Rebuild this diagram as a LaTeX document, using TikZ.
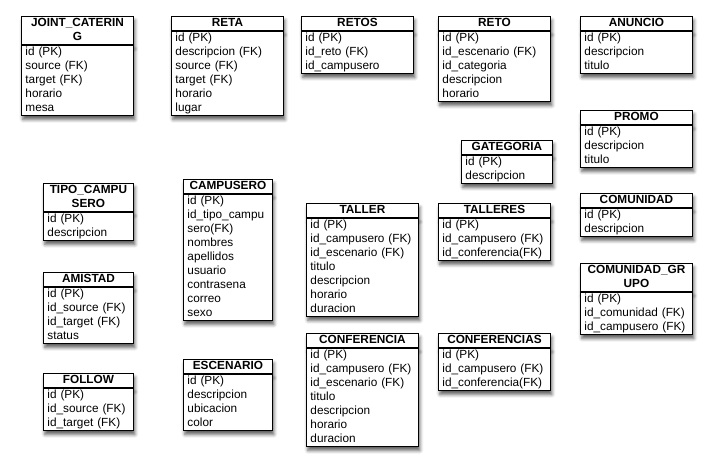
\documentclass[tikz,border=0pt]{standalone}
\usepackage{fontspec}
\setmainfont{Liberation Sans}
\usepackage{tikz}
\usetikzlibrary{positioning,shadows.blur}

\begin{document}
\begin{tikzpicture}[x=1pt,y=-1pt,
  tabla/.style={draw,line width=.9pt,fill=white,inner xsep=4pt,inner ysep=0pt,
    execute at begin node=\strut,execute at end node=\strut,
    blur shadow={shadow xshift=1.5pt,shadow yshift=-4pt,shadow blur radius=3.5pt,shadow opacity=65}},
  titulo/.style={tabla,anchor=north west,align=center,text width=#1,
    font=\fontsize{11.8}{14}\selectfont\bfseries},
  titulo/.default=104pt,
  campos/.style={tabla,align=left,text width=#1,
    font=\fontsize{11.8}{14}\selectfont},
  campos/.default=104pt]
\useasboundingbox (0,0) rectangle (713,470);
%primera fila
\node[titulo] (jc) at (21,16) {JOINT\_CATERIN\\G};
\node[campos,below=0pt of jc] (jcCampos) {id (PK)\\source (FK)\\target (FK)\\horario\\mesa};
\node[titulo] (reta) at (171,16) {RETA};
\node[campos,below=0pt of reta] (retaCampos) {id (PK)\\descripcion (FK)\\source (FK)\\target (FK)\\horario\\lugar};
\node[titulo] (retos) at (301,16) {RETOS};
\node[campos,below=0pt of retos] (retosCampos) {id (PK)\\id\_reto (FK)\\id\_campusero};
\node[titulo] (reto) at (438,16) {RETO};
\node[campos,below=0pt of reto] (retoCampos) {id (PK)\\id\_escenario (FK)\\id\_categoria\\descripcion\\horario};
\node[titulo] (anuncio) at (580,16) {ANUNCIO};
\node[campos,below=0pt of anuncio] (anuncioCampos) {id (PK)\\descripcion\\titulo};
%columna derecha
\node[titulo] (promo) at (580,110) {PROMO};
\node[campos,below=0pt of promo] (promoCampos) {id (PK)\\descripcion\\titulo};
\node[titulo=83pt] (gategoria) at (461,140) {GATEGORIA};
\node[campos=83pt,below=0pt of gategoria] (gategoriaCampos) {id (PK)\\descripcion};
\node[titulo] (comunidad) at (580,193) {COMUNIDAD};
\node[campos,below=0pt of comunidad] (comunidadCampos) {id (PK)\\descripcion};
\node[titulo] (comGrupo) at (580,263) {COMUNIDAD\_GR\\UPO};
\node[campos,below=0pt of comGrupo] (comGrupoCampos) {id (PK)\\id\_comunidad (FK)\\id\_campusero (FK)};
%tablas angostas a la izquierda
\node[titulo=82pt] (tipo) at (43,183) {TIPO\_CAMPU\\SERO};
\node[campos=82pt,below=0pt of tipo] (tipoCampos) {id (PK)\\descripcion};
\node[titulo=82pt] (amistad) at (43,272) {AMISTAD};
\node[campos=82pt,below=0pt of amistad] (amistadCampos) {id (PK)\\id\_source (FK)\\id\_target (FK)\\status};
\node[titulo=82pt] (follow) at (43,373) {FOLLOW};
\node[campos=82pt,below=0pt of follow] (followCampos) {id (PK)\\id\_source (FK)\\id\_target (FK)};
\node[titulo=81pt] (campusero) at (183,179) {CAMPUSERO};
\node[campos=81pt,below=0pt of campusero] (campuseroCampos) {id (PK)\\id\_tipo\_campu\\sero(FK)\\nombres\\apellidos\\usuario\\contrasena\\correo\\sexo};
\node[titulo=81pt] (escenario) at (183,359) {ESCENARIO};
\node[campos=81pt,below=0pt of escenario] (escenarioCampos) {id (PK)\\descripcion\\ubicacion\\color};
%talleres y conferencias
\node[titulo] (taller) at (306,203) {TALLER};
\node[campos,below=0pt of taller] (tallerCampos) {id (PK)\\id\_campusero (FK)\\id\_escenario (FK)\\titulo\\descripcion\\horario\\duracion};
\node[titulo] (talleres) at (438,203) {TALLERES};
\node[campos,below=0pt of talleres] (talleresCampos) {id (PK)\\id\_campusero (FK)\\id\_conferencia(FK)};
\node[titulo] (conferencia) at (306,333) {CONFERENCIA};
\node[campos,below=0pt of conferencia] (conferenciaCampos) {id (PK)\\id\_campusero (FK)\\id\_escenario (FK)\\titulo\\descripcion\\horario\\duracion};
\node[titulo] (conferencias) at (438,333) {CONFERENCIAS};
\node[campos,below=0pt of conferencias] (conferenciasCampos) {id (PK)\\id\_campusero (FK)\\id\_conferencia(FK)};
\end{tikzpicture}
\end{document}
